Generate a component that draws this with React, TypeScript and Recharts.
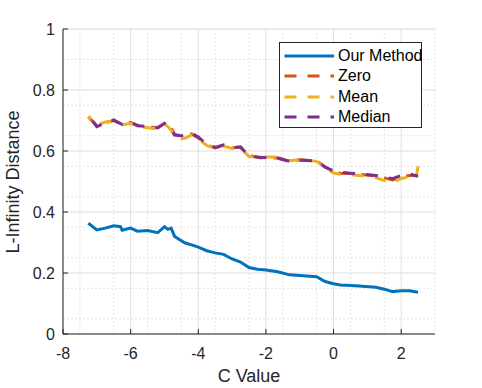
import React from "react";
import { LineChart, Line, XAxis, YAxis, CartesianGrid } from "recharts";

const cValues = [
  -7.25, -7.0, -6.75, -6.5, -6.3, -6.25, -6.0, -5.8, -5.5, -5.2, -5.0, -4.9, -4.8, -4.7,
  -4.5, -4.4, -4.2, -4.0, -3.75, -3.5, -3.25, -3.0, -2.75, -2.5, -2.25, -2.0, -1.65, -1.3,
  -1.0, -0.5, -0.25, 0.0, 0.2, 0.5, 0.75, 1.25, 1.5, 1.75, 2.0, 2.25, 2.45, 2.5,
];

const ourMethod = [
  0.363, 0.341, 0.347, 0.355, 0.352, 0.34, 0.347, 0.337, 0.339, 0.332, 0.352, 0.343, 0.347, 0.32,
  0.306, 0.299, 0.292, 0.285, 0.273, 0.266, 0.261, 0.246, 0.236, 0.218, 0.212, 0.21, 0.204, 0.194,
  0.192, 0.188, 0.172, 0.165, 0.161, 0.159, 0.157, 0.153, 0.147, 0.139, 0.142, 0.142, 0.138, 0.138,
];

const zero = [
  0.712, 0.683, 0.693, 0.7, 0.688, 0.69, 0.693, 0.684, 0.678, 0.677, 0.69, 0.685, 0.675, 0.655,
  0.648, 0.65, 0.656, 0.643, 0.62, 0.61, 0.618, 0.61, 0.614, 0.586, 0.579, 0.576, 0.578, 0.567,
  0.571, 0.568, 0.548, 0.532, 0.527, 0.526, 0.524, 0.518, 0.512, 0.505, 0.515, 0.52, 0.52, 0.52,
];

const mean = [
  0.714, 0.685, 0.695, 0.698, 0.686, 0.686, 0.69, 0.68, 0.676, 0.672, 0.688, 0.68, 0.668, 0.646,
  0.64, 0.642, 0.652, 0.64, 0.618, 0.608, 0.616, 0.608, 0.61, 0.582, 0.581, 0.58, 0.58, 0.568,
  0.572, 0.566, 0.545, 0.528, 0.524, 0.522, 0.52, 0.513, 0.503, 0.495, 0.51, 0.516, 0.518, 0.55,
];

const median = [
  0.716, 0.68, 0.691, 0.702, 0.69, 0.688, 0.695, 0.683, 0.68, 0.676, 0.691, 0.682, 0.672, 0.652,
  0.65, 0.652, 0.658, 0.646, 0.622, 0.612, 0.62, 0.612, 0.612, 0.585, 0.58, 0.578, 0.576, 0.566,
  0.57, 0.567, 0.547, 0.535, 0.53, 0.527, 0.525, 0.52, 0.515, 0.509, 0.52, 0.525, 0.518, 0.518,
];

const xTicks = [-8, -6, -4, -2, 0, 2];
const yTicks = [0, 0.2, 0.4, 0.6, 0.8, 1];
const xMinor = [-7.5, -7, -6.5, -5.5, -5, -4.5, -3.5, -3, -2.5, -1.5, -1, -0.5, 0.5, 1, 1.5, 2.5, 3];
const yMinor = [0.05, 0.1, 0.15, 0.25, 0.3, 0.35, 0.45, 0.5, 0.55, 0.65, 0.7, 0.75, 0.85, 0.9, 0.95, 1];

const series = [
  { key: "our", name: "Our Method", color: "#0072BD", dash: undefined, offset: 0 },
  { key: "zero", name: "Zero", color: "#D95319", dash: "12 11", offset: 0 },
  { key: "mean", name: "Mean", color: "#EDB120", dash: "12 11", offset: 8 },
  { key: "median", name: "Median", color: "#7E2F8E", dash: "12 11", offset: 16 },
];

const data = cValues.map((c, i) => ({
  c,
  our: ourMethod[i],
  zero: zero[i],
  mean: mean[i],
  median: median[i],
}));

const font = "'Liberation Sans', Arial, sans-serif";
const ink = "#262626";

function LegendBox() {
  return (
    <div
      style={{
        position: "absolute",
        left: 279,
        top: 42,
        width: 141,
        height: 84,
        border: "1px solid #262626",
        background: "#fff",
        fontFamily: font,
        fontSize: 16,
        color: "#000",
        whiteSpace: "nowrap",
      }}
    >
      {series.map((s, i) => (
        <div key={s.key} style={{ position: "absolute", left: 0, top: 2.5 + i * 20.6, height: 20, width: 141 }}>
          <svg width={56} height={20} style={{ position: "absolute", left: 0, top: 0 }}>
            <line
              x1={4.5}
              x2={54}
              y1={10}
              y2={10}
              stroke={s.color}
              strokeWidth={3}
              strokeDasharray={s.dash ? "12 11" : undefined}
            />
          </svg>
          <span style={{ position: "absolute", left: 58, top: 1, lineHeight: "18px" }}>{s.name}</span>
        </div>
      ))}
    </div>
  );
}

export default function App() {
  return (
    <div style={{ position: "absolute", left: 0, top: 0, width: 482, height: 388, background: "#fff" }}>
      <LineChart width={482} height={388} data={data} margin={{ top: 29, right: 47, bottom: 0, left: 0 }}>
        <CartesianGrid
          verticalValues={xMinor}
          horizontalValues={yMinor}
          stroke="#e4e4e4"
          strokeDasharray="2 2"
        />
        <CartesianGrid verticalValues={xTicks} horizontalValues={yTicks} stroke="#dedede" />
        <XAxis
          dataKey="c"
          type="number"
          domain={[-8, 3]}
          ticks={xTicks}
          height={54}
          stroke={ink}
          tickSize={-5}
          tickMargin={19}
          tick={{ fill: ink, fontSize: 16, fontFamily: font }}
          label={{
            value: "C Value",
            position: "insideBottom",
            offset: 6,
            fill: ink,
            fontSize: 18,
            fontFamily: font,
          }}
        />
        <YAxis
          type="number"
          domain={[0, 1]}
          ticks={yTicks}
          width={63}
          stroke={ink}
          tickSize={-5}
          tickMargin={13}
          tick={{ fill: ink, fontSize: 16, fontFamily: font }}
          label={{
            value: "L-Infinity Distance",
            angle: -90,
            position: "insideLeft",
            dx: 8,
            dy: 72,
            fill: ink,
            fontSize: 18,
            fontFamily: font,
          }}
        />
        {series.map((s) => (
          <Line
            key={s.key}
            dataKey={s.key}
            name={s.name}
            type="linear"
            stroke={s.color}
            strokeWidth={3}
            strokeDasharray={s.dash}
            strokeDashoffset={s.offset}
            dot={false}
            activeDot={false}
            isAnimationActive={false}
          />
        ))}
      </LineChart>
      <LegendBox />
    </div>
  );
}
